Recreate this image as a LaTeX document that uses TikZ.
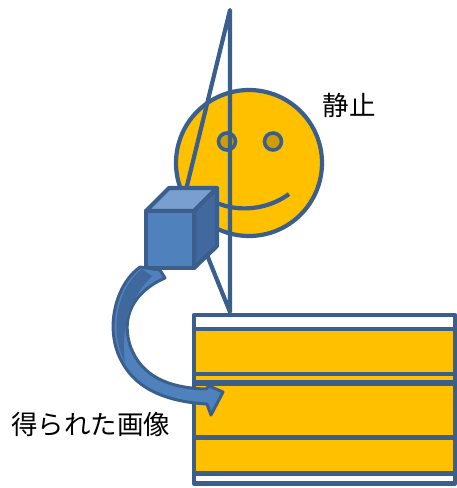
\documentclass[tikz,border=0pt]{standalone}
\usepackage{fontspec}
\newfontfamily\jpfont{Noto Sans CJK JP}
\definecolor{edge}{HTML}{3B5F8C}
\definecolor{gold}{HTML}{FFC000}
\definecolor{eyegold}{HTML}{D09C00}
\definecolor{cubefront}{HTML}{4F81BD}
\definecolor{cubetop}{HTML}{789FCF}
\definecolor{cubeside}{HTML}{41699E}
\definecolor{arrowdark}{HTML}{3F689C}
\tikzset{
  outline/.style={draw=edge, line width=4.2pt, line join=round},
  label/.style={font=\jpfont\fontsize{26.5}{30}\selectfont, text=black, inner sep=0pt},
}
\begin{document}
\begin{tikzpicture}[x=1pt,y=-1pt]
\useasboundingbox (0,0) rectangle (457,488);

% face
\draw[outline, fill=gold] (249,163) circle (73);
\draw[outline, fill=eyegold, line width=3.6pt] (227,141.5) circle (8.5);
\draw[outline, fill=eyegold, line width=3.6pt] (273,141.5) circle (8.5);
\draw[outline, line cap=butt] (200,192) .. controls (222,213) and (262,214) .. (289,194);

% triangle stand
\coordinate (apex) at (230,10);
\coordinate (foot) at (230,312);
\coordinate (lefttip) at (184,198);
\draw[outline] (apex) -- (foot) -- (lefttip) -- cycle;

% cube
\filldraw[outline, fill=cubetop] (146,211) -- (169,188) -- (217,188) -- (194,211) -- cycle;
\filldraw[outline, fill=cubeside] (194,211) -- (217,188) -- (217,246) -- (194,268) -- cycle;
\filldraw[outline, fill=cubefront] (146,211) rectangle (194,268);

% image strip
\fill[white] (194,315) rectangle (455,483);
\fill[gold] (194,329) rectangle (455,473.5);
\draw[edge, line width=4.2pt] (194,329) -- (455,329);
\draw[edge, line width=4.2pt] (194,374) -- (455,374);
\draw[edge, line width=5.2pt] (194,383) -- (455,383);
\draw[edge, line width=4.2pt] (194,437.5) -- (453,437.5);
\draw[edge, line width=4.2pt] (194,473.5) -- (455,473.5);
\draw[outline, line width=4.4pt] (194,315) rectangle (455,483.5);

% curved arrow from the camera to the image
\filldraw[outline, line width=3pt, fill=cubefront]
  (140,267) .. controls (115,285) and (104,330) .. (122,362)
  .. controls (138,392) and (172,402) .. (207,404)
  -- (211,415) -- (223,392) -- (209,386) -- (206,389)
  .. controls (168,388) and (142,376) .. (131,348)
  .. controls (120,318) and (133,292) .. (165,278)
  -- (160,270) -- cycle;
\fill[arrowdark] (142,269) .. controls (118,287) and (108,330) .. (125,362)
  .. controls (121,330) and (128,300) .. (152,276) -- cycle;

% labels
\node[label] (still) at (349,105) {静止};
\node[label] (result) at (91,424) {得られた画像};
\end{tikzpicture}
\end{document}
